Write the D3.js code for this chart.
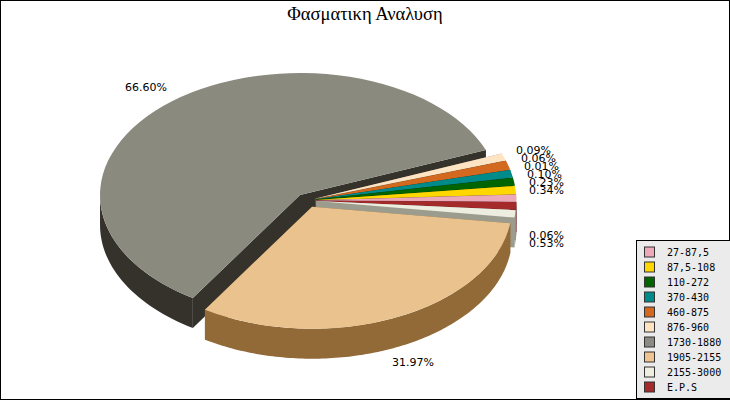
<!DOCTYPE html>
<html><head><meta charset="utf-8">
<script src="https://cdn.jsdelivr.net/npm/d3@7/dist/d3.min.js"></script>
<style>html,body{margin:0;padding:0;background:#fff}svg{display:block}</style>
</head><body><svg id="c" width="730" height="400"></svg>
<script>
const categories = ["27-87,5","87,5-108","110-272","370-430","460-875","876-960","1730-1880","1905-2155","2155-3000","E.P.S"];
const percentLabels = ["0.34%","0.23%","0.10%","0.01%","0.06%","0.09%","66.60%","31.97%","0.06%","0.53%"];
// Share of the circle each slice occupies as drawn (tiny slices are widened in the picture)
const drawnShares = [0.94,1.08,1.03,1.0,1.19,0.97,59.97,31.83,0.97,1.0];
const topColors = ["#eea9b8","#ffd700","#006400","#008b8b","#d2691e","#ffe4c4","#8a8a7f","#eac28e","#eeeee0","#a52a2a"];
const wallColors = ["#8f6570","#997f00","#003c00","#005353","#7e3f12","#998976","#34322b","#926a38","#9c9c8e","#631919"];
const swatchColors = ["#eea9b8","#ffd700","#006400","#008b8b","#d2691e","#ffe4c4","#8b8b83","#eec591","#eeeee0","#a52a2a"];
const drawOrder = [6,5,4,3,2,1,0,9,8,7];
const labelAnchors = [[529,190],[529,182],[527,174],[524,166],[521,158],[516,150],[125,87],[392,362],[529,235],[529,243]];

const W=730,H=400,cx=307.3,cy=200.4,R=200,tilt=0.61,depth=30,rad=Math.PI/180;
const svg=d3.select("#c");
svg.append("rect").attr("x",0.5).attr("y",0.5).attr("width",W-1).attr("height",H-1).attr("fill","#fff").attr("stroke","#000");
svg.append("text").attr("x",365).attr("y",20).attr("text-anchor","middle")
  .attr("font-family","Liberation Serif").attr("font-size",18.5).attr("fill","#000").text("Φασματικη Αναλυση");

// counter-clockwise pie starting just below 3 o'clock
const startMath=-0.7;
const a0=(90-startMath)*rad;
const pie=d3.pie().sort(null).value(d=>d).startAngle(a0).endAngle(a0-2*Math.PI);
const arcs=pie(drawnShares);
const arc=d3.arc().innerRadius(0).outerRadius(R);
const line=d3.line();
const explode=i=>drawnShares[i]>10?11.4:9;
const g=svg.append("g");
drawOrder.forEach(i=>{
  const a=arcs[i], mid=(a.startAngle+a.endAngle)/2;
  const ox=cx+explode(i)*Math.sin(mid), oy=cy-explode(i)*Math.cos(mid)*tilt;
  const pt=t=>[ox+R*Math.sin(t), oy-R*Math.cos(t)*tilt];
  const angles=d3.range(0,121).map(k=>a.startAngle+(a.endAngle-a.startAngle)*k/120);
  const down=p=>[p[0],p[1]+depth];
  const wall=g.append("g").attr("fill",wallColors[i]);
  const ctr=[ox,oy];
  [angles[0],angles[120]].forEach(t=>{const e=pt(t);wall.append("path").attr("d",line([ctr,e,down(e),down(ctr)])+"Z");});
  // only the part of the rim that faces the viewer
  const front=angles.filter(t=>Math.cos(t)<=0.02).map(pt);
  if(front.length>1) wall.append("path").attr("d",line(front.concat(front.slice().reverse().map(down)))+"Z");
  g.append("path").attr("d",arc(a)).attr("fill",topColors[i])
    .attr("transform",`translate(${ox},${oy}) scale(1,${tilt})`);
});
const labels=svg.append("g").attr("font-family","DejaVu Sans").attr("font-size",11).attr("fill","#000");
percentLabels.forEach((t,i)=>labels.append("text").attr("x",labelAnchors[i][0]).attr("y",labelAnchors[i][1]+4).text(t));

// legend
const lx=636.5, ly=240.5;
const leg=svg.append("g");
leg.append("rect").attr("x",lx).attr("y",ly).attr("width",W-lx+2).attr("height",H-ly-1.5).attr("fill","#ebebeb").attr("stroke","#000");
leg.append("line").attr("x1",640).attr("x2",W).attr("y1",399.5).attr("y2",399.5).attr("stroke","#000");
const rowY=d3.scalePoint().domain(categories).range([252,387]);
categories.forEach((c,i)=>{
  leg.append("rect").attr("x",644.5).attr("y",rowY(c)-5).attr("width",10).attr("height",10)
    .attr("fill",swatchColors[i]).attr("stroke","#333");
  leg.append("text").attr("x",667).attr("y",rowY(c)+3.5).attr("font-family","DejaVu Sans Mono").attr("font-size",10).attr("fill","#000").text(c);
});
</script></body></html>
